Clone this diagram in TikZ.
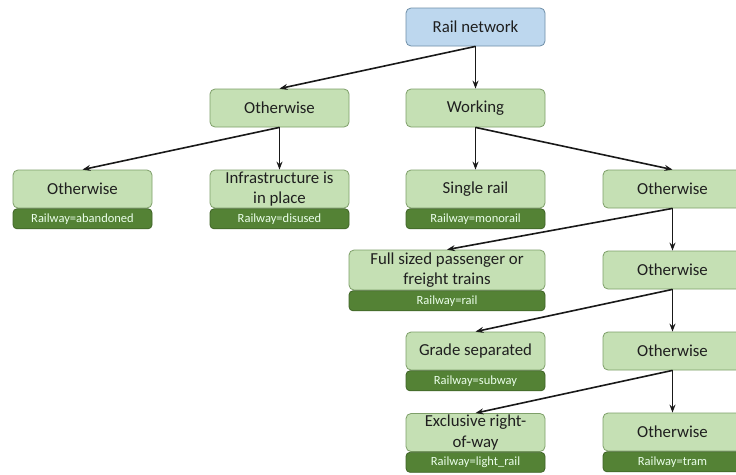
\documentclass[tikz,border=0pt]{standalone}
\usepackage{fontspec}
\setmainfont{Carlito}
\usetikzlibrary{arrows.meta}
\definecolor{gfill}{HTML}{C5E0B4}
\definecolor{gdraw}{HTML}{7E9F69}
\definecolor{bfill}{HTML}{BDD7EE}
\definecolor{bdraw}{HTML}{6F8FA8}
\definecolor{dfill}{HTML}{548235}
\definecolor{ddraw}{HTML}{3F6427}
\definecolor{txt}{HTML}{1F1F1F}
\begin{document}
\begin{tikzpicture}[x=1pt,y=-1pt,
  box/.style={draw=gdraw, fill=gfill, rounded corners=5pt, line width=0.8pt,
    minimum width=139pt, minimum height=38pt, align=center, inner sep=1pt,
    font=\fontsize{16.8}{20.5}\selectfont, text=txt},
  rootbox/.style={box, draw=bdraw, fill=bfill},
  bar/.style={draw=ddraw, fill=dfill, rounded corners=4pt, line width=0.8pt,
    minimum width=139pt, minimum height=20pt, inner sep=1pt, anchor=north,
    font=\fontsize{12.5}{14}\selectfont, text=white!92!green},
  arr/.style={-{Stealth[length=8pt,width=6pt]}, line width=1.6pt, black!90}]
\clip (0,0) rectangle (736,474);
\fill[white] (0,0) rectangle (736,474);
% nodes
\node[rootbox] (rail) at (475.5,27) {Rail network};
\node[box] (oth1) at (279.5,108) {Otherwise};
\node[box] (work) at (475.5,108) {Working};
\node[box] (oth2) at (82.5,189) {Otherwise};
\node[bar] (b2) at (oth2.south) {Railway=abandoned};
\node[box] (infra) at (279.5,189) {Infrastructure is\\in place};
\node[bar] (binfra) at (infra.south) {Railway=disused};
\node[box] (single) at (475.5,189) {Single rail};
\node[bar] (bsingle) at (single.south) {Railway=monorail};
\node[box] (oth3) at (672.5,189) {Otherwise};
\node[box, minimum width=196pt, minimum height=40pt] (full) at (447,270) {Full sized passenger or\\freight trains};
\node[bar, minimum width=196pt] (bfull) at (full.south) {Railway=rail};
\node[box] (oth4) at (672.5,270) {Otherwise};
\node[box] (grade) at (475.5,351) {Grade separated};
\node[bar] (bgrade) at (grade.south) {Railway=subway};
\node[box] (oth5) at (672.5,351) {Otherwise};
\node[box] (excl) at (475.5,432.5) {Exclusive right-\\of-way};
\node[bar] (bexcl) at (excl.south) {Railway=light\_rail};
\node[box] (oth6) at (672.5,432) {Otherwise};
\node[bar] (both6) at (oth6.south) {Railway=tram};
% connectors
\draw[arr] (rail.south) -- (oth1.north);
\draw[arr] (rail.south) -- (work.north);
\draw[arr] (oth1.south) -- (oth2.north);
\draw[arr] (oth1.south) -- (infra.north);
\draw[arr] (work.south) -- (single.north);
\draw[arr] (work.south) -- (oth3.north);
\draw[arr] (oth3.south) -- (full.north);
\draw[arr] (oth3.south) -- (oth4.north);
\draw[arr] (oth4.south) -- (grade.north);
\draw[arr] (oth4.south) -- (oth5.north);
\draw[arr] (oth5.south) -- (excl.north);
\draw[arr] (oth5.south) -- (oth6.north);
\end{tikzpicture}
\end{document}
